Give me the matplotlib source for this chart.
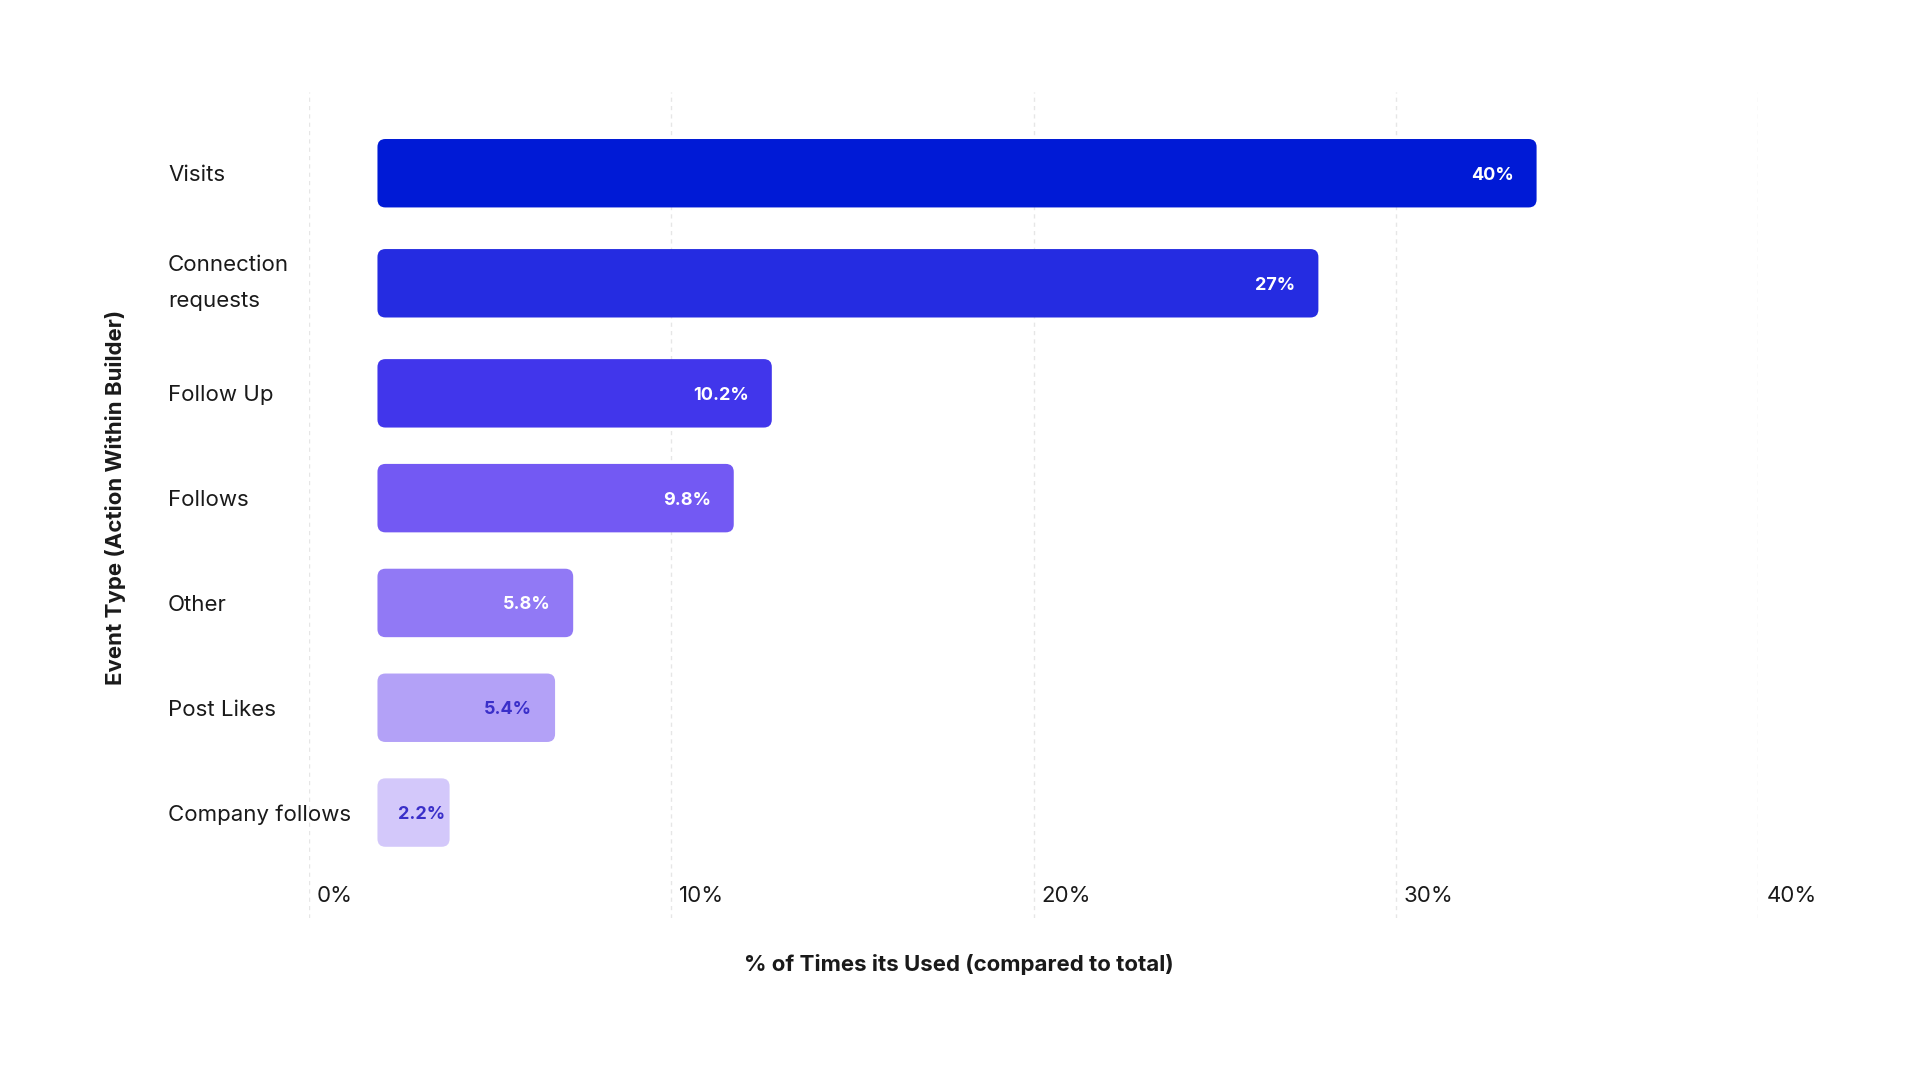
import matplotlib
matplotlib.use("Agg")
import matplotlib.pyplot as plt
from matplotlib.patches import FancyBboxPatch
import matplotlib.transforms as mtransforms

plt.rcParams['font.family'] = ['Inter', 'DejaVu Sans']

# ---- data ----
categories = ["Visits", "Connection\nrequests", "Follow Up", "Follows",
              "Other", "Post Likes", "Company follows"]
value_labels = ["40%", "27%", "10.2%", "9.8%", "5.8%", "5.4%", "2.2%"]
bar_lengths = [31.98, 25.96, 10.88, 9.83, 5.40, 4.90, 1.99]   # (axis units)
bar_start = 1.9
xticks = [0, 10, 20, 30, 40]
xtick_labels = ["0%", "10%", "20%", "30%", "40%"]

colors = ["#001AD6", "#252CE1", "#4136EB", "#7359F3", "#9179F5", "#B3A1F7", "#D3C8FA"]
label_colors = ["white", "white", "white", "white", "white", "#3A2FC9", "#3A2FC9"]

W, H = 1920, 1080
fig = plt.figure(figsize=(19.2, 10.8), dpi=100)
ax_l, ax_r, ax_t, ax_b = 308.6, 1758.4, 92, 918
ax = fig.add_axes([ax_l / W, 1 - ax_b / H, (ax_r - ax_l) / W, (ax_b - ax_t) / H])

# row layout: multi-line labels get a slightly taller row
row_h = [1.0 + 0.1 * (c.count("\n")) for c in categories]
y = []
acc = 0.0
for i, h in enumerate(row_h):
    if i == 0:
        y.append(0.0)
    else:
        acc += (row_h[i - 1] + h) / 2
        y.append(acc)

bars = ax.barh(y, bar_lengths, left=bar_start, height=0.653, color=colors)

ax.set_xlim(0, 40)
y_top, y_bot = -0.775, y[-1] + 1.006
ax.set_ylim(y_bot, y_top)

# rounded corners
px_per_x = (ax_r - ax_l) / 40.0
px_per_y = (ax_b - ax_t) / (y_bot - y_top)
r_px = 8
r_x = r_px / px_per_x
aspect = (r_px / px_per_y) / r_x
for b, c in zip(bars, colors):
    b.set_visible(False)
    fb = FancyBboxPatch((b.get_x(), b.get_y()), b.get_width(), b.get_height(),
                        boxstyle=f"round,pad=0,rounding_size={r_x}",
                        mutation_aspect=aspect, facecolor=c, edgecolor="none", zorder=3)
    ax.add_patch(fb)

# value labels inside bars
renderer = fig.canvas.get_renderer()
pad_px = 23
for b, lab, lc in zip(bars, value_labels, label_colors):
    yc = b.get_y() + b.get_height() / 2
    t = ax.text(b.get_x() + b.get_width(), yc, lab, ha="right", va="center_baseline",
                fontsize=13, fontweight="bold", color=lc, zorder=4)
    tw = t.get_window_extent(renderer).width
    bw = b.get_width() * px_per_x
    if tw + 2 * pad_px > bw:
        t.set_x(b.get_x())
        t.set_horizontalalignment("left")
        t.set_transform(ax.transData + mtransforms.ScaledTranslation(21 / 100, 0, fig.dpi_scale_trans))
    else:
        t.set_transform(ax.transData + mtransforms.ScaledTranslation(-pad_px / 100, 0, fig.dpi_scale_trans))

# grid
ax.set_xticks(xticks)
ax.set_xticklabels(xtick_labels, fontsize=16, color="#1a1a1a")
ax.xaxis.grid(True, color="#e6e6e6", linestyle=(0, (3, 3)), linewidth=1.0, zorder=0)
ax.set_axisbelow(True)
ax.tick_params(axis="x", length=0, pad=-23)
xoff = mtransforms.ScaledTranslation(8 / 100, 0, fig.dpi_scale_trans)
for t in ax.get_xticklabels():
    t.set_horizontalalignment("left")
    t.set_transform(t.get_transform() + xoff)

ax.set_yticks(y)
ax.set_yticklabels(categories, fontsize=16, color="#1a1a1a", linespacing=1.98)
ax.tick_params(axis="y", length=0, pad=(ax_l - 168) * 72 / 100)
for t in ax.get_yticklabels():
    t.set_horizontalalignment("left")
    if "\n" in t.get_text():
        t.set_verticalalignment("center")

for s in ax.spines.values():
    s.set_visible(False)

fig.text(116 / W, 1 - 497 / H, "Event Type (Action Within Builder)", rotation=90,
         ha="center", va="center", fontsize=16, fontweight="bold", color="#1a1a1a")
fig.text(959 / W, 1 - 964.5 / H, "% of Times its Used (compared to total)",
         ha="center", va="center", fontsize=16, fontweight="bold", color="#1a1a1a")

fig.savefig("out.png", dpi=100, facecolor="white")
